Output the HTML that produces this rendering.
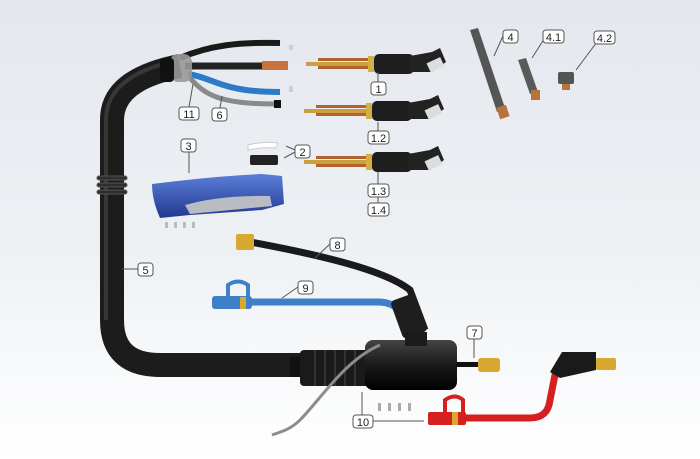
<!DOCTYPE html>
<html><head><meta charset="utf-8"><style>
html,body{margin:0;padding:0;width:700px;height:459px;overflow:hidden}
svg{display:block}
text{font-family:"Liberation Sans",sans-serif;font-size:11px;fill:#222}
</style></head><body>
<svg width="700" height="459" viewBox="0 0 700 459" xmlns="http://www.w3.org/2000/svg">
<defs>
<linearGradient id="bg" x1="0" y1="0" x2="0" y2="1">
<stop offset="0" stop-color="#e4e8ee"/><stop offset="0.55" stop-color="#eef1f4"/><stop offset="1" stop-color="#ffffff"/>
</linearGradient>
<linearGradient id="blk" x1="0" y1="0" x2="0" y2="1"><stop offset="0" stop-color="#444"/><stop offset="0.5" stop-color="#1a1a1a"/><stop offset="1" stop-color="#000"/></linearGradient>
<linearGradient id="blu" x1="0" y1="0" x2="0" y2="1"><stop offset="0" stop-color="#5a7fd8"/><stop offset="1" stop-color="#23388f"/></linearGradient>
</defs>
<rect width="700" height="459" fill="url(#bg)"/>

<!-- main hose -->
<path d="M180 66 C150 72 112 85 112 120 L112 320 Q112 365 160 365 L305 365" fill="none" stroke="#1c1c1c" stroke-width="24"/>
<path d="M180 60 C150 66 106 80 106 120 L106 320" fill="none" stroke="#4a4a4a" stroke-width="4" opacity="0.6"/>
<g fill="#2e2e2e" stroke="#555" stroke-width="1">
<rect x="97" y="176" width="30" height="4" rx="2"/><rect x="97" y="183" width="30" height="4" rx="2"/><rect x="97" y="190" width="30" height="4" rx="2"/>
</g>
<!-- cable ends -->
<path d="M180 58 C210 45 240 42 280 43" fill="none" stroke="#1a1a1a" stroke-width="6"/>
<path d="M185 66 L262 66" fill="none" stroke="#222" stroke-width="7"/>
<rect x="262" y="61" width="26" height="9" fill="#c8733a"/>
<path d="M188 74 C215 78 220 92 280 92" fill="none" stroke="#2d7ac8" stroke-width="6"/>
<path d="M190 78 C205 95 220 104 275 104" fill="none" stroke="#8a8a8a" stroke-width="5"/>
<rect x="274" y="100" width="7" height="8" fill="#111"/>
<rect x="170" y="54" width="22" height="28" rx="8" fill="#999" opacity="0.9"/>
<rect x="160" y="58" width="14" height="24" rx="4" fill="#111"/>
<rect x="289" y="45" width="4" height="5" fill="#ccd"/><rect x="289" y="86" width="4" height="6" fill="#ccd"/>

<!-- torch necks -->
<g id="neck">
<rect x="306" y="62" width="64" height="4" fill="#c9a040"/>
<rect x="318" y="58" width="50" height="3" fill="#b5602e"/><rect x="318" y="66" width="50" height="3" fill="#b5602e"/>
<rect x="368" y="56" width="6" height="16" fill="#d4b040"/>
<rect x="374" y="54" width="40" height="20" rx="5" fill="#1e1e1e"/>
<path d="M410 56 L432 52 L440 48 L446 62 L432 72 L410 72 Z" fill="#222"/>
<rect x="428" y="60" width="15" height="10" fill="#ddd" transform="rotate(-25 435 65)"/>
</g>
<use href="#neck" transform="translate(-2 47)"/>
<use href="#neck" transform="translate(-2 98)"/>

<!-- handle -->
<path d="M152 184 Q215 176 262 174 L282 176 L284 204 L262 210 L190 215 L160 218 Q152 200 152 184 Z" fill="url(#blu)"/>
<path d="M185 205 Q220 195 270 196 L272 206 L190 214 Z" fill="#b9bcc2"/>
<g fill="#bbb"><rect x="165" y="222" width="3" height="6"/><rect x="174" y="222" width="3" height="6"/><rect x="183" y="222" width="3" height="6"/><rect x="192" y="222" width="3" height="6"/></g>
<!-- part 2 -->
<path d="M248 145 Q262 141 278 143 L276 148 Q262 147 248 150 Z" fill="#fff" stroke="#ccc"/>
<rect x="250" y="155" width="28" height="10" rx="2" fill="#222"/>

<!-- part 4 -->
<path d="M470 30 L478 28 L505 108 L497 112 Z" fill="#555"/>
<rect x="498" y="106" width="10" height="12" fill="#b8733a" transform="rotate(-18 503 112)"/>
<path d="M518 60 L526 58 L538 92 L530 94 Z" fill="#5a5a5a"/>
<rect x="531" y="90" width="9" height="10" fill="#b8733a"/>
<rect x="558" y="72" width="16" height="12" rx="2" fill="#555"/><rect x="562" y="84" width="8" height="6" fill="#b8733a"/>

<!-- 8 black hose -->
<path d="M250 242 C320 255 385 270 410 290 L425 330" fill="none" stroke="#1a1a1a" stroke-width="7"/>
<rect x="236" y="234" width="18" height="16" rx="2" fill="#d8a830"/>
<!-- 9 blue hose -->
<path d="M245 302 L378 302 C395 302 405 312 412 330" fill="none" stroke="#3d7fc9" stroke-width="7"/>
<rect x="212" y="296" width="40" height="13" rx="3" fill="#3d7fc9"/>
<path d="M228 297 L228 285 Q238 278 248 285 L248 297" fill="none" stroke="#3d7fc9" stroke-width="4"/>
<rect x="240" y="297" width="6" height="12" fill="#d8a830"/>
<rect x="396" y="296" width="26" height="40" rx="4" fill="#1e1e1e" transform="rotate(-20 409 316)"/>

<!-- connector body -->
<rect x="290" y="357" width="20" height="20" fill="#111"/>
<rect x="300" y="350" width="70" height="36" rx="4" fill="#1a1a1a"/>
<g stroke="#333" stroke-width="2"><line x1="315" y1="350" x2="315" y2="386"/><line x1="325" y1="350" x2="325" y2="386"/><line x1="335" y1="350" x2="335" y2="386"/><line x1="345" y1="350" x2="345" y2="386"/><line x1="355" y1="350" x2="355" y2="386"/></g>
<rect x="365" y="340" width="92" height="50" rx="8" fill="url(#blk)"/>
<rect x="405" y="332" width="22" height="14" fill="#1a1a1a"/>
<rect x="456" y="362" width="22" height="5" fill="#111"/>
<rect x="478" y="358" width="22" height="14" rx="3" fill="#d8a830"/>
<path d="M380 345 C345 360 320 400 300 420 C290 430 280 432 272 435" fill="none" stroke="#8c8c8c" stroke-width="3"/>

<!-- 10 red -->
<path d="M455 418 L530 418 Q548 418 550 400 L556 370" fill="none" stroke="#d62020" stroke-width="7"/>
<rect x="428" y="412" width="38" height="13" rx="2" fill="#d62020"/>
<path d="M445 413 L445 400 Q455 393 463 400 L463 413" fill="none" stroke="#d62020" stroke-width="4"/>
<rect x="452" y="412" width="6" height="13" fill="#d8a830"/>
<path d="M550 372 L562 352 L596 352 L596 370 L560 378 Z" fill="#1a1a1a"/>
<rect x="596" y="358" width="20" height="12" rx="2" fill="#d8a830"/>
<g fill="#aaa"><rect x="378" y="403" width="3" height="8"/><rect x="388" y="403" width="3" height="8"/><rect x="398" y="403" width="3" height="8"/><rect x="408" y="403" width="3" height="8"/></g>

<!-- leader lines -->
<g stroke="#555" stroke-width="1" fill="none">
<path d="M378 82 L378 72"/><path d="M378 131 L378 122"/><path d="M378 184 L378 172"/><path d="M378 197 L378 204"/>
<path d="M189 107 L193 84"/><path d="M220 108 L222 96"/><path d="M189 152 L189 173"/>
<path d="M295 150 L286 146"/><path d="M295 152 L284 158"/>
<path d="M503 36 L494 56"/><path d="M546 36 L532 58"/><path d="M597 42 L576 70"/>
<path d="M138 269 L122 269"/><path d="M330 244 L315 258"/><path d="M298 287 L282 298"/>
<path d="M474 338 L474 358"/><path d="M371 421 L424 421"/><path d="M362 415 L362 392"/>
</g>
<!-- labels -->
<g fill="#fff" stroke="#555" stroke-width="1">
<rect x="371" y="82" width="15" height="13" rx="3"/>
<rect x="368" y="131" width="21" height="13" rx="3"/>
<rect x="368" y="184" width="21" height="13" rx="3"/>
<rect x="368" y="203" width="21" height="13" rx="3"/>
<rect x="179" y="107" width="20" height="13" rx="3"/>
<rect x="212" y="108" width="15" height="13" rx="3"/>
<rect x="181" y="139" width="15" height="13" rx="3"/>
<rect x="295" y="145" width="15" height="13" rx="3"/>
<rect x="503" y="30" width="15" height="13" rx="3"/>
<rect x="543" y="30" width="21" height="13" rx="3"/>
<rect x="594" y="31" width="21" height="13" rx="3"/>
<rect x="138" y="263" width="15" height="13" rx="3"/>
<rect x="330" y="238" width="15" height="13" rx="3"/>
<rect x="298" y="281" width="15" height="13" rx="3"/>
<rect x="467" y="326" width="15" height="13" rx="3"/>
<rect x="353" y="415" width="20" height="13" rx="3"/>
</g>
<g text-anchor="middle">
<text x="378.5" y="93">1</text><text x="378.5" y="142">1.2</text><text x="378.5" y="195">1.3</text><text x="378.5" y="214">1.4</text>
<text x="189" y="118">11</text><text x="219.5" y="119">6</text><text x="188.5" y="150">3</text><text x="302.5" y="156">2</text>
<text x="510.5" y="41">4</text><text x="553.5" y="41">4.1</text><text x="604.5" y="42">4.2</text>
<text x="145.5" y="274">5</text><text x="337.5" y="249">8</text><text x="305.5" y="292">9</text><text x="474.5" y="337">7</text><text x="363" y="426">10</text>
</g>
</svg>
</body></html>
